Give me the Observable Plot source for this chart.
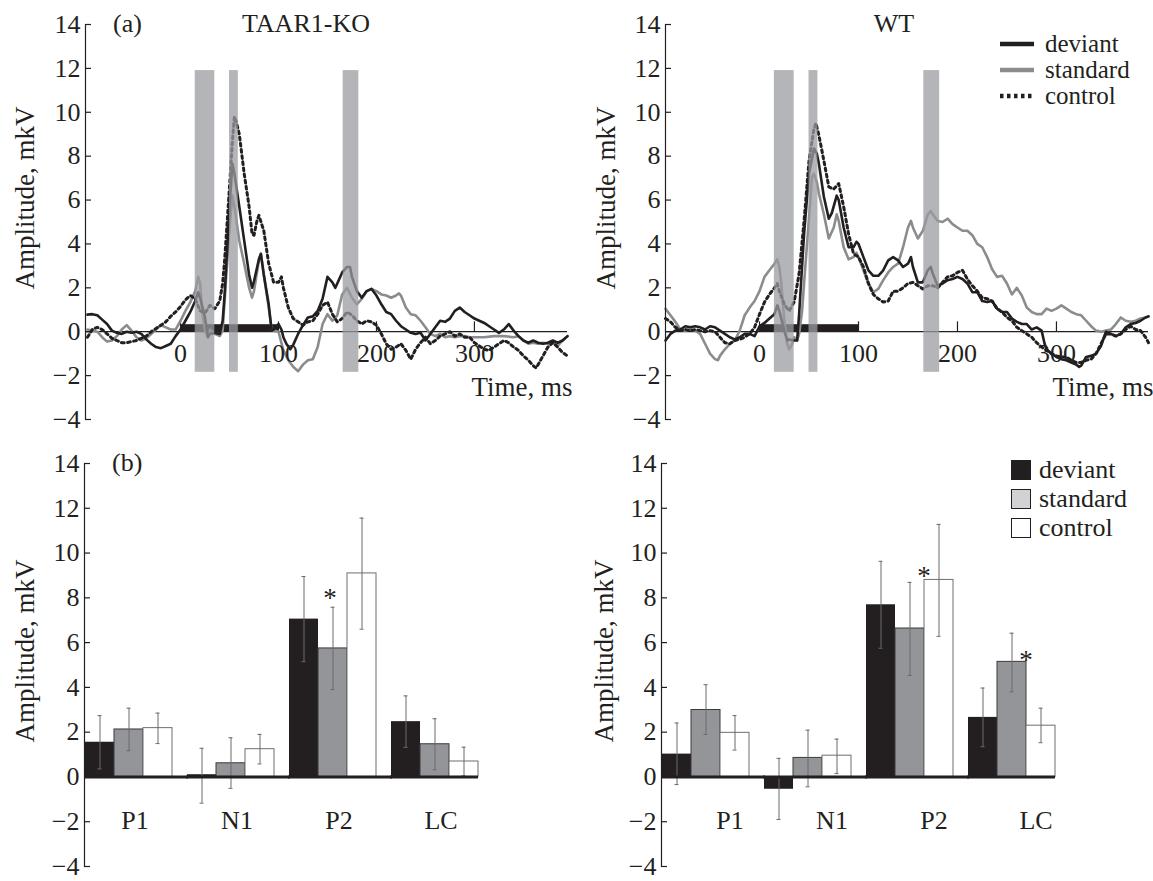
<!DOCTYPE html>
<html><head><meta charset="utf-8">
<script src="https://cdn.jsdelivr.net/npm/d3@7"></script>
<script src="https://cdn.jsdelivr.net/npm/@observablehq/plot@0.6"></script>
<style>
body{margin:0;background:#fff;}
#root{position:relative;width:1153px;height:881px;font-family:"Liberation Serif","Times New Roman",serif;color:#231f20;overflow:hidden;}
.panel{position:absolute;}
.panel svg{overflow:visible;}
.lbl{position:absolute;font-size:27px;line-height:1;white-space:nowrap;}
.rot{transform:translate(-50%,-50%) rotate(-90deg);}
</style></head><body><div id="root"></div>
<script>
// ---------- data ----------
const yTicks = [-4,-2,0,2,4,6,8,10,12,14];
const timeTicks = [0,100,200,300];
const bands = [[15,35],[50,59],[166,182]];
const stimulus = [[0,100]];

const koDeviant = [[-95,0.78],[-90,0.8],[-85,0.75],[-80,0.55],[-75,0.35],[-70,0.05],[-65,-0.05],[-60,-0.1],[-55,0],[-50,-0.05],[-45,0],[-40,-0.1],[-35,-0.35],[-30,-0.55],[-25,-0.7],[-20,-0.75],[-15,-0.65],[-10,-0.55],[-5,-0.2],[0,0.1],[5,0.5],[10,0.9],[15,1.4],[18,1.8],[20,1.55],[25,0.65],[28,-0.25],[30,-0.1],[35,-0.05],[40,-0.1],[43,0.5],[45,1.7],[50,5.7],[53,7.65],[55,7.2],[60,5.7],[65,4.15],[70,2.6],[73,2.0],[75,2.3],[80,3.3],[82,3.55],[85,2.6],[90,1.25],[93,0.05],[95,0.1],[100,0.35],[103,0.1],[105,-0.25],[108,-0.55],[112,-0.8],[115,-0.6],[120,-0.1],[125,0.3],[130,0.65],[135,0.7],[140,0.95],[145,1.5],[150,2.5],[155,2.25],[158,2.0],[160,2.2],[165,2.7],[170,2.95],[173,2.95],[175,2.5],[180,1.85],[185,1.55],[190,1.85],[195,1.95],[200,1.65],[205,1.25],[210,0.9],[215,0.8],[220,0.5],[225,0.25],[230,0.1],[235,-0.05],[240,-0.1],[245,-0.05],[250,-0.4],[255,-0.1],[260,0.2],[265,0.5],[270,0.45],[275,0.6],[280,0.95],[285,1.1],[290,0.9],[295,0.75],[300,0.6],[305,0.5],[310,0.4],[315,0.25],[320,0.1],[325,-0.05],[330,0.1],[335,0.35],[340,0.05],[345,-0.2],[350,-0.4],[355,-0.5],[360,-0.4],[365,-0.5],[370,-0.55],[375,-0.5],[380,-0.4],[385,-0.5],[390,-0.4],[395,-0.2]];
const koStandard = [[-95,0.1],[-90,0.05],[-85,0],[-80,-0.25],[-75,-0.45],[-70,-0.4],[-65,-0.2],[-60,0.1],[-55,0.3],[-50,0.05],[-45,-0.25],[-40,-0.4],[-35,-0.3],[-30,-0.1],[-25,0.1],[-20,0.3],[-15,0.2],[-10,0.1],[-5,0.1],[0,0.5],[5,0.95],[10,1.35],[15,1.85],[18,2.5],[20,2.2],[22,0.95],[25,0.05],[28,-0.25],[30,0.1],[35,-0.1],[40,-0.2],[43,0.05],[45,1.4],[50,4.75],[53,6.2],[55,5.7],[60,4.15],[65,3.1],[70,2.0],[73,1.55],[75,1.85],[80,3.25],[82,3.55],[85,2.6],[90,1.1],[93,0.1],[95,0.05],[100,0],[105,-0.85],[110,-1.3],[115,-1.6],[120,-1.8],[125,-1.5],[130,-1.3],[135,-1.25],[140,-0.7],[145,0.35],[150,0.8],[155,0.5],[160,0.75],[165,1.7],[170,2.0],[175,1.55],[180,1.25],[185,1.5],[190,1.85],[195,1.95],[200,1.85],[205,1.7],[210,1.65],[215,1.55],[220,1.65],[223,1.75],[225,1.65],[230,1.1],[235,0.8],[240,0.75],[245,0.5],[250,0.2],[255,-0.1],[260,-0.2],[265,-0.1],[270,-0.25],[275,-0.2],[280,-0.25],[285,-0.2],[290,-0.2],[295,-0.25],[300,-0.25],[310,-0.25],[320,-0.2],[330,-0.2],[340,-0.25],[345,-0.2],[350,-0.4],[355,-0.55],[360,-0.5],[365,-0.55],[370,-0.5],[375,-0.55],[380,-0.5],[385,-0.65],[390,-0.4],[395,-0.2]];
const koControl = [[-95,-0.25],[-90,0.1],[-85,0.2],[-80,0.1],[-75,-0.1],[-70,-0.3],[-65,-0.4],[-60,-0.5],[-55,-0.5],[-50,-0.45],[-45,-0.4],[-40,-0.3],[-35,-0.2],[-30,0],[-25,0.15],[-20,0.3],[-15,0.45],[-10,0.7],[-5,0.9],[0,1.15],[5,1.45],[10,1.65],[15,1.5],[20,0.95],[25,0.85],[30,1.2],[35,1.05],[40,1.4],[43,2.2],[45,3.25],[50,6.6],[53,8.7],[55,9.8],[57,9.55],[60,9.0],[65,7.2],[70,5.7],[73,4.45],[75,4.4],[78,5.05],[80,5.3],[85,4.6],[90,3.1],[95,2.25],[100,2.25],[103,2.5],[105,2.0],[110,1.1],[115,0.6],[120,0.45],[125,0.3],[130,0.45],[135,0.5],[140,0.8],[145,1.2],[150,1.35],[155,0.8],[160,0.45],[165,0.6],[170,0.9],[175,0.75],[180,0.5],[185,0.35],[190,0.5],[195,0.45],[200,0.3],[205,-0.1],[210,-0.55],[215,-0.8],[220,-0.7],[225,-0.55],[230,-0.85],[235,-1.25],[240,-0.8],[245,-0.5],[250,-0.25],[255,-0.55],[260,-0.4],[265,-0.2],[270,-0.1],[275,0],[280,-0.2],[285,-0.1],[290,-0.25],[295,-0.25],[300,-0.5],[305,-0.65],[310,-0.8],[315,-0.85],[320,-0.7],[325,-0.55],[330,-0.4],[335,-0.5],[340,-0.7],[345,-0.85],[350,-1.1],[355,-1.3],[360,-1.55],[363,-1.65],[365,-1.5],[370,-1.1],[375,-0.7],[380,-0.5],[385,-0.7],[390,-0.95],[395,-1.1]];

const wtDeviant = [[-95,-0.4],[-90,-0.1],[-85,0.05],[-80,0.1],[-75,0.25],[-70,0.2],[-65,0.25],[-60,0.2],[-55,0.1],[-50,0.25],[-45,0.2],[-40,0.05],[-35,-0.1],[-30,-0.25],[-25,-0.35],[-20,-0.25],[-15,-0.1],[-10,-0.1],[-5,-0.2],[0,0.25],[5,0.4],[10,0.6],[15,0.8],[18,1.2],[20,0.95],[25,0.05],[28,-0.4],[30,-0.35],[35,-0.4],[38,-0.4],[40,0.8],[45,4.45],[50,7.2],[55,8.35],[58,8.1],[60,7.65],[65,6.15],[70,5.15],[73,5.4],[78,6.2],[80,6.0],[85,4.75],[90,3.85],[95,3.85],[98,4.1],[100,4.0],[105,3.4],[110,2.8],[115,2.55],[120,2.55],[125,2.8],[130,3.25],[135,3.4],[140,3.25],[145,2.95],[150,3.1],[153,3.4],[155,2.95],[160,2.25],[165,2.25],[170,2.8],[173,2.95],[175,2.65],[180,2.1],[185,2.2],[190,2.35],[195,2.4],[200,2.5],[205,2.4],[210,2.2],[215,1.8],[220,1.8],[225,1.4],[230,1.35],[235,1.4],[240,1.05],[245,0.9],[250,0.9],[255,0.6],[260,0.45],[265,0.35],[270,0.35],[275,0.1],[280,0.2],[285,0.05],[288,-0.55],[290,-0.8],[295,-1.0],[300,-1.15],[305,-1.25],[310,-1.3],[315,-1.4],[320,-1.5],[323,-1.6],[325,-1.55],[330,-1.15],[335,-1.1],[340,-1.0],[345,-0.65],[350,0],[355,-0.1],[360,-0.2],[365,-0.1],[370,0.2],[375,0.35],[380,0.4],[385,0.5],[390,0.65],[393,0.7]];
const wtStandard = [[-95,1.05],[-90,0.75],[-85,0.45],[-80,0.1],[-75,0.05],[-70,0.1],[-65,0.05],[-60,-0.1],[-55,-0.55],[-50,-1.0],[-45,-1.25],[-42,-1.3],[-40,-1.1],[-35,-0.8],[-30,-0.55],[-25,-0.4],[-20,0.05],[-15,0.75],[-10,1.1],[-5,1.4],[0,1.85],[5,2.5],[10,2.8],[15,3.1],[18,3.3],[20,2.95],[22,2.2],[25,0.5],[28,-0.55],[30,-0.8],[33,-0.55],[35,-0.25],[38,-0.4],[40,-0.1],[43,0.95],[45,2.2],[50,5.2],[53,7.05],[55,7.2],[58,6.8],[60,6.3],[65,5.35],[70,4.25],[75,4.75],[78,5.35],[80,5.05],[85,3.85],[90,3.3],[95,3.4],[98,3.6],[100,3.4],[105,2.8],[110,2.2],[115,1.8],[120,1.95],[125,2.35],[130,2.7],[135,2.95],[140,3.1],[145,3.85],[150,4.75],[153,5.05],[155,4.75],[160,4.25],[165,4.6],[170,5.35],[173,5.5],[175,5.35],[180,5.05],[185,5.0],[190,5.15],[195,4.9],[200,4.75],[205,4.6],[210,4.6],[215,4.4],[220,4.0],[225,3.85],[230,3.4],[235,2.85],[240,2.5],[245,2.55],[250,2.2],[255,1.7],[260,2.0],[265,1.65],[270,1.1],[275,0.9],[280,0.8],[285,0.8],[290,1.05],[295,0.95],[300,1.05],[305,1.2],[310,1.05],[315,0.9],[320,0.8],[325,0.75],[330,0.5],[335,0.25],[340,0.05],[345,0],[350,0.05],[355,0.1],[360,0.35],[365,0.65],[370,0.5],[375,0.45],[380,0.5],[385,0.6],[390,0.65],[393,0.7]];
const wtControl = [[-95,0.6],[-90,0.45],[-85,0.2],[-80,0.05],[-75,0.1],[-70,0.05],[-65,0.1],[-60,0.05],[-55,0],[-50,0.05],[-45,0],[-40,-0.25],[-35,-0.5],[-30,-0.55],[-25,-0.4],[-20,-0.35],[-15,-0.25],[-10,-0.1],[-5,0.2],[0,0.8],[5,1.35],[10,1.7],[15,2.0],[18,2.2],[20,1.85],[25,1.25],[30,0.95],[35,1.35],[40,2.65],[45,5.05],[50,7.8],[55,9.25],[57,9.5],[60,8.95],[65,7.8],[70,6.6],[75,6.5],[80,6.75],[85,5.7],[90,4.45],[95,3.55],[100,3.4],[105,2.95],[110,2.2],[115,1.7],[120,1.5],[125,1.35],[130,1.4],[135,1.85],[140,1.85],[145,2.0],[150,2.2],[155,2.25],[160,2.1],[165,1.95],[170,2.1],[175,2.1],[180,2.0],[185,2.25],[190,2.5],[195,2.55],[200,2.7],[205,2.8],[210,2.4],[215,2.1],[220,1.85],[225,1.55],[230,1.5],[235,1.4],[240,1.05],[245,0.9],[250,0.65],[255,0.5],[260,0.2],[265,0.05],[270,-0.1],[275,-0.25],[280,-0.5],[285,-0.7],[290,-0.85],[295,-1.0],[300,-1.1],[305,-1.15],[310,-1.15],[315,-1.3],[320,-1.4],[325,-1.4],[330,-1.3],[335,-1.25],[340,-1.0],[345,-0.55],[350,-0.1],[355,-0.1],[360,-0.2],[365,-0.1],[370,0.1],[375,0.25],[380,0.1],[385,0.05],[390,-0.25],[393,-0.5]];

const components = ["P1","N1","P2","LC"];
const conditions = ["deviant","standard","control"];
const koDeviantMean = [1.55, 0.1, 7.05, 2.47];
const koDeviantLow  = [0.36, -1.17, 5.15, 1.32];
const koDeviantHigh = [2.74, 1.28, 8.95, 3.62];
const koStandardMean = [2.12, 0.61, 5.74, 1.46];
const koStandardLow  = [1.17, -0.51, 3.90, 0.32];
const koStandardHigh = [3.07, 1.75, 7.58, 2.6];
const koControlMean = [2.18, 1.24, 9.09, 0.69];
const koControlLow  = [1.49, 0.58, 6.6, 0.05];
const koControlHigh = [2.85, 1.90, 11.56, 1.33];
const wtDeviantMean = [1.02, -0.55, 7.69, 2.66];
const wtDeviantLow  = [-0.34, -1.9, 5.75, 1.35];
const wtDeviantHigh = [2.41, 0.83, 9.63, 3.97];
const wtStandardMean = [2.99, 0.85, 6.63, 5.14];
const wtStandardLow  = [1.9, -0.44, 4.53, 3.80];
const wtStandardHigh = [4.12, 2.09, 8.69, 6.42];
const wtControlMean = [1.97, 0.95, 8.80, 2.29];
const wtControlLow  = [1.2, 0.15, 6.28, 1.53];
const wtControlHigh = [2.74, 1.69, 11.28, 3.07];
const koStarComponents = ["P2"]; const koStarY = [8.3];
const wtStarComponents = ["P2","LC"]; const wtStarY = [9.27, 5.5];

// ---------- helpers ----------
const INK = "#231f20";
const FONT = "Liberation Serif, Times New Roman, serif";
const minus = d => d < 0 ? "\u2212" + (-d) : String(d);
const root = document.getElementById("root");
function place(node, left, top) {
  const div = document.createElement("div");
  div.className = "panel"; div.style.left = left + "px"; div.style.top = top + "px";
  div.appendChild(node); root.appendChild(div);
}
function label(text, left, top, cls, extra) {
  const d = document.createElement("div");
  d.className = "lbl" + (cls ? " " + cls : "");
  d.textContent = text; d.style.left = left + "px"; d.style.top = top + "px";
  if (extra) Object.assign(d.style, extra);
  root.appendChild(d); return d;
}
const plotStyle = {fontFamily: FONT, fontSize: "26px", color: INK, background: "transparent", overflow: "visible"};

function linePanel(dev, std, ctl, domain, w, ml, mr) {
  return Plot.plot({
    width: w, height: 440, marginLeft: ml, marginRight: mr, marginTop: 24, marginBottom: 21,
    style: plotStyle,
    x: {domain, axis: null},
    y: {domain: [-4, 14], axis: null},
    marks: [
      Plot.ruleY([0], {stroke: INK, strokeWidth: 1.2}),
      Plot.rect(stimulus, {x1: d => d[0], x2: d => d[1], y1: 0, y2: 0.32, fill: INK}),
      Plot.ruleX(timeTicks, {x: d => d, y1: 0, y2: 0.45, stroke: INK, strokeWidth: 1.2}),
      Plot.line(std, {x: d => d[0], y: d => d[1], stroke: "#8b8c8f", strokeWidth: 2.6}),
      Plot.line(dev, {x: d => d[0], y: d => d[1], stroke: INK, strokeWidth: 2.6}),
      Plot.line(ctl, {x: d => d[0], y: d => d[1], stroke: INK, strokeWidth: 3, strokeDasharray: "2.8,3.4"}),
      Plot.rect(bands, {x1: d => d[0], x2: d => d[1], y1: -1.85, y2: 11.9, fill: "#9b9ca0", fillOpacity: 0.75}),
      Plot.text(timeTicks, {x: d => d, y: -1.02, text: d => String(d), fontSize: 26, fill: INK, lineAnchor: "middle"}),
      Plot.frame({anchor: "left", stroke: INK, strokeWidth: 1.2}),
      Plot.axisY({ticks: yTicks, tickSize: -6, tickPadding: 11, fontSize: 26, tickFormat: minus, stroke: INK, strokeWidth: 1.2, fill: INK}),
      Plot.text(["Time, ms"], {frameAnchor: "right", y: -2.55, text: d => d, textAnchor: "end", dx: 5, fontSize: 27, fill: INK, lineAnchor: "middle"})
    ]
  });
}

function rowsOf(means, lows, highs) {
  const rows = [];
  conditions.forEach((c, j) => components.forEach((p, i) => rows.push({component: p, condition: c, value: means[j][i], low: lows[j][i], high: highs[j][i]})));
  return rows;
}

function barPanel(rows, starComps, starY, w, ml, mr, starDx, labelDx) {
  const stars = starComps.map((c, i) => ({component: c, y: starY[i]}));
  const of = c => rows.filter(r => r.condition === c);
  const last = components[components.length - 1];
  return Plot.plot({
    width: w, height: 441, marginLeft: ml, marginRight: mr, marginTop: 23, marginBottom: 15,
    style: plotStyle,
    fx: {domain: components, paddingInner: 0.14, paddingOuter: 0, axis: null, label: null},
    x: {domain: conditions, padding: 0, axis: null},
    y: {domain: [-4, 14], axis: null},
    marks: [
      Plot.barY(of("deviant"), {fx: "component", x: "condition", y: "value", fill: INK}),
      Plot.barY(of("standard"), {fx: "component", x: "condition", y: "value", fill: "#939598", stroke: "#3a3a3a", strokeWidth: 1}),
      Plot.barY(of("control"), {fx: "component", x: "condition", y: "value", fill: "#fff", stroke: "#6d6e71", strokeWidth: 1}),
      Plot.ruleX(rows, {fx: "component", x: "condition", y1: "low", y2: "high", stroke: "#6a6a6a", strokeWidth: 1}),
      Plot.tickY(rows, {fx: "component", x: "condition", y: "low", stroke: "#6a6a6a", strokeWidth: 1, insetLeft: 12.5, insetRight: 12.5}),
      Plot.tickY(rows, {fx: "component", x: "condition", y: "high", stroke: "#6a6a6a", strokeWidth: 1, insetLeft: 12.5, insetRight: 12.5}),
      Plot.ruleY(components.filter(c => c !== last), {fx: d => d, y: () => 0, stroke: INK, strokeWidth: 3, insetRight: -16}),
      Plot.ruleY([last], {fx: d => d, y: () => 0, stroke: INK, strokeWidth: 3}),
      Plot.frame({anchor: "left", facet: "super", stroke: INK, strokeWidth: 1.2}),
      Plot.axisY({ticks: yTicks, tickSize: -6, tickPadding: 11, fontSize: 26, tickFormat: minus, stroke: INK, strokeWidth: 1.2, fill: INK}),
      Plot.text(components, {fx: d => d, x: () => "standard", y: -1.95, text: d => d, dx: labelDx, fontSize: 26, fill: INK, lineAnchor: "middle"}),
      Plot.text(stars, {fx: "component", x: () => "standard", y: "y", text: () => "*", dx: starDx, dy: 7, fontSize: 27, fill: INK, lineAnchor: "middle"})
    ]
  });
}

// ---------- panels ----------
place(linePanel(koDeviant, koStandard, koControl, [-97, 395], 576, 85, 9), 0, 0);
place(linePanel(wtDeviant, wtStandard, wtControl, [-95, 393], 577, 89, 5), 576, 0);
place(barPanel(rowsOf([koDeviantMean, koStandardMean, koControlMean], [koDeviantLow, koStandardLow, koControlLow], [koDeviantHigh, koStandardHigh, koControlHigh]), koStarComponents, koStarY, 576, 84, 98, -3, 6), 0, 440);
place(barPanel(rowsOf([wtDeviantMean, wtStandardMean, wtControlMean], [wtDeviantLow, wtStandardLow, wtControlLow], [wtDeviantHigh, wtStandardHigh, wtControlHigh]), wtStarComponents, wtStarY, 577, 85, 98, 14, 24), 576, 440);

// ---------- titles & axis labels ----------
label("(a)", 113, 11, null, {fontSize: "26px"});
label("TAAR1-KO", 306, 11, null, {transform: "translateX(-50%)", fontSize: "26px"});
label("WT", 894, 11, null, {transform: "translateX(-50%)", fontSize: "26px"});
label("(b)", 112, 450, null, {fontSize: "26px"});
label("Amplitude, mkV", 25, 198, "rot");
label("Amplitude, mkV", 606, 198, "rot");
label("Amplitude, mkV", 25, 651, "rot");
label("Amplitude, mkV", 604, 651, "rot");

// ---------- legends ----------
const lineLegend = [["deviant", "solid"], ["standard", "gray"], ["control", "dotted"]];
const lineLegendY = [44, 70, 96];
lineLegend.forEach(([name, kind], i) => {
  const y = lineLegendY[i];
  const svg = d3.create("svg").attr("width", 36).attr("height", 8)
    .style("position", "absolute").style("left", "1000px").style("top", (y - 4) + "px");
  svg.append("line").attr("x1", 0).attr("x2", 34).attr("y1", 4).attr("y2", 4)
    .attr("stroke", kind === "gray" ? "#8b8c8f" : INK).attr("stroke-width", 4.5)
    .attr("stroke-dasharray", kind === "dotted" ? "3.5,3.5" : null);
  root.appendChild(svg.node());
  label(name, 1045, y - 12, null, {fontSize: "25px", lineHeight: "24px", height: "24px"});
});
const barLegend = [["deviant", INK], ["standard", "#d1d2d4"], ["control", "#fff"]];
const barLegendY = [470, 499, 528];
barLegend.forEach(([name, fill], i) => {
  const y = barLegendY[i];
  const sq = document.createElement("div");
  Object.assign(sq.style, {position: "absolute", left: "1011px", top: (y - 10) + "px", width: "18px", height: "18px", background: fill, border: "1.5px solid " + INK});
  root.appendChild(sq);
  label(name, 1039, y - 13, null, {fontSize: "26px", lineHeight: "26px", height: "26px"});
});
</script></body></html>
